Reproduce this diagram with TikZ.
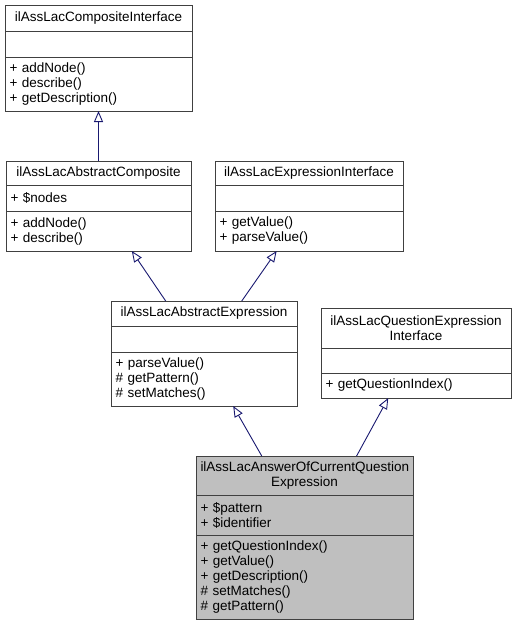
\documentclass[tikz,border=0pt]{standalone}
\usepackage{fontspec}
\setmainfont{Liberation Sans}
\usetikzlibrary{positioning,calc,arrows.meta}
\definecolor{edgeblue}{HTML}{191970}

\begin{document}
\begin{tikzpicture}[x=1pt,y=-1pt,font=\fontsize{13.5}{15}\selectfont,
  part/.style={draw=black!75,line width=1pt,fill=white,inner xsep=4.5pt,inner ysep=0pt,outer sep=0pt,minimum height=#1},
  title/.style={part=#1,align=center},
  members/.style={part=#1,align=left},
  cur/.style={fill=black!25},
  inh/.style={draw=edgeblue,line width=0.9pt,-{Triangle[open,length=11pt,width=9pt]}}]
  \useasboundingbox (0,0) rectangle (516,625);

  % ilAssLacCompositeInterface
  \node[title=26,minimum width=187] (ci) at (98.5,18) {ilAssLacCompositeInterface};
  \node[members=26,minimum width=187,below=0pt of ci] (ci-attr) {};
  \node[members=54,text width=178,below=0pt of ci-attr] (ci-ops) {+ addNode()\\+ describe()\\+ getDescription()};

  % ilAssLacAbstractComposite
  \node[title=24,minimum width=185] (ac) at (98.5,173) {ilAssLacAbstractComposite};
  \node[members=26,text width=176,below=0pt of ac] (ac-attr) {+ \$nodes};
  \node[members=40,text width=176,below=0pt of ac-attr] (ac-ops) {+ addNode()\\+ describe()};

  % ilAssLacExpressionInterface
  \node[title=24,minimum width=188] (ei) at (309,173) {ilAssLacExpressionInterface};
  \node[members=26,minimum width=188,below=0pt of ei] (ei-attr) {};
  \node[members=40,text width=179,below=0pt of ei-attr] (ei-ops) {+ getValue()\\+ parseValue()};

  % ilAssLacAbstractExpression
  \node[title=25,minimum width=186] (ae) at (204,313.5) {ilAssLacAbstractExpression};
  \node[members=26,minimum width=186,below=0pt of ae] (ae-attr) {};
  \node[members=54,text width=177,below=0pt of ae-attr] (ae-ops) {+ parseValue()\\\# getPattern()\\\# setMatches()};

  % ilAssLacQuestionExpressionInterface
  \node[title=40,text width=181] (qei) at (416,328) {ilAssLacQuestionExpression\\Interface};
  \node[members=25,minimum width=190,below=0pt of qei] (qei-attr) {};
  \node[members=25,text width=181,below=0pt of qei-attr] (qei-ops) {+ getQuestionIndex()};

  % ilAssLacAnswerOfCurrentQuestionExpression
  \node[title=39,cur,text width=208] (ans) at (304.5,475.5) {ilAssLacAnswerOfCurrentQuestion\\Expression};
  \node[members=40,cur,text width=208,below=0pt of ans] (ans-attr) {+ \$pattern\\+ \$identifier};
  \node[members=84,cur,text width=208,below=0pt of ans-attr] (ans-ops) {+ getQuestionIndex()\\+ getValue()\\+ getDescription()\\\# setMatches()\\\# getPattern()};

  % inheritance
  \draw[inh] (ac.north) -- (ci-ops.south);
  \draw[inh] ($(ae.north west)!0.294!(ae.north east)$) -- ($(ac-ops.south west)!0.68!(ac-ops.south east)$);
  \draw[inh] ($(ae.north west)!0.703!(ae.north east)$) -- ($(ei-ops.south west)!0.328!(ei-ops.south east)$);
  \draw[inh] ($(ans.north west)!0.303!(ans.north east)$) -- ($(ae-ops.south west)!0.657!(ae-ops.south east)$);
  \draw[inh] ($(ans.north west)!0.74!(ans.north east)$) -- ($(qei-ops.south west)!0.354!(qei-ops.south east)$);
\end{tikzpicture}
\end{document}
